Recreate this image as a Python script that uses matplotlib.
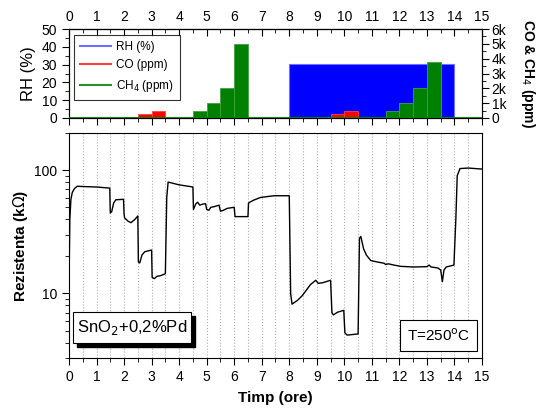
import numpy as np
import matplotlib.pyplot as plt
from matplotlib.lines import Line2D
from matplotlib.patches import Rectangle
from matplotlib import ticker

plt.rcParams['font.family'] = ['Liberation Sans', 'DejaVu Sans']

# --- program of gases (top panel) ---
rh_start = [8.0]
rh_width = [6.0]
rh_pct = [30.5]

co_start = [2.0, 2.5, 3.0, 9.0, 9.5, 10.0]
co_ppm = [100, 300, 500, 100, 300, 500]

ch4_start = [4.5, 5.0, 5.5, 6.0, 11.5, 12.0, 12.5, 13.0]
ch4_ppm = [500, 1000, 2000, 5000, 500, 1000, 2000, 3800]

# --- resistance response (bottom panel) ---
t_h = [0.00, 0.03, 0.07, 0.12, 0.20, 0.30, 0.60, 1.00, 1.48,
       1.50, 1.55, 1.62, 1.70, 1.98,
       2.00, 2.02, 2.15, 2.25, 2.40, 2.50,
       2.52, 2.57, 2.65, 2.75, 3.00,
       3.02, 3.10, 3.20, 3.30, 3.45, 3.50,
       3.55, 3.60, 3.70, 4.00, 4.50,
       4.52, 4.60, 4.67, 4.75, 4.85, 4.96, 5.00, 5.08, 5.15, 5.26, 5.45,
       5.50, 5.58, 5.75, 6.00, 6.03, 6.50,
       6.52, 6.57, 6.70, 6.95, 7.44, 8.00,
       8.05, 8.10, 8.30, 8.47, 8.60, 8.77, 8.96, 9.05, 9.20, 9.50,
       9.55, 9.60, 9.75, 9.98,
       10.02, 10.10, 10.30, 10.50,
       10.55, 10.60, 10.70, 10.80, 10.96, 11.20, 11.44, 11.50, 11.60, 11.80,
       12.05, 12.50, 13.00, 13.08, 13.15, 13.40, 13.50, 13.56, 13.62, 13.70,
       13.98, 14.05, 14.10, 14.20, 14.50, 15.00]
r_kohm = [12, 40, 58, 66, 71, 74, 73.5, 73, 71.5,
          45, 46, 54, 57.5, 58,
          44, 41, 38.5, 37.5, 40, 42.5,
          18, 17.7, 20.5, 21.8, 22.5,
          13.5, 13.2, 13.8, 13.9, 14.3, 14.5,
          60, 80, 79, 76, 73,
          48, 53, 55, 52, 53, 53.5, 48, 47.3, 50, 50.5, 52,
          46.5, 47, 49, 50, 42, 42,
          54, 55, 57, 60, 62, 62,
          10, 8.2, 8.8, 9.6, 10.5, 11.8, 12.8, 12.1, 12.2, 12.8,
          7, 6.7, 7.05, 7.3,
          4.8, 4.6, 4.65, 4.7,
          28, 29, 23, 20.5, 18.5, 18, 17.6, 17.2, 17.4, 17,
          16.6, 16.4, 16.5, 17, 16.4, 16.1, 15.5, 12.5, 15.5, 16.4,
          17, 40, 90, 103, 104, 102]

fig = plt.figure(figsize=(5.45, 4.09), dpi=100)
ax_g = fig.add_axes([0.1266, 0.7115, 0.7578, 0.2175])
ax_r = fig.add_axes([0.1266, 0.1247, 0.7578, 0.5501])

''' TOP PANEL '''
ax_g.bar(rh_start, rh_pct, width=rh_width, align='edge', color='#0000ff',
         edgecolor='#6f6fff', linewidth=0.8, zorder=1)
ax_g.set_xlim(0, 15)
ax_g.set_ylim(0, 50)
ax_g.set_yticks(np.arange(0, 51, 10))
ax_g.yaxis.set_minor_locator(ticker.MultipleLocator(5))
ax_g.set_xticks(np.arange(0, 16, 1))
ax_g.xaxis.set_minor_locator(ticker.MultipleLocator(0.5))
ax_g.tick_params(axis='x', which='both', bottom=True, top=False, labelbottom=False, direction='out')
ax_g.tick_params(axis='both', which='major', length=5, labelsize=10)
ax_g.tick_params(axis='both', which='minor', length=3)
ax_g.set_ylabel('RH (%)', fontsize=12, labelpad=4)

sec = ax_g.secondary_xaxis('top')
sec.set_xticks(np.arange(0, 16, 1))
sec.xaxis.set_minor_locator(ticker.MultipleLocator(0.5))
sec.tick_params(axis='x', which='both', direction='in', labelsize=10)
sec.tick_params(which='major', length=5)
sec.tick_params(which='minor', length=3)

ax_p = ax_g.twinx()
ax_p.bar(co_start, co_ppm, width=0.5, align='edge', color='#ff0000',
         edgecolor='#ff4040', linewidth=0.6, zorder=2)
ax_p.bar(ch4_start, ch4_ppm, width=0.5, align='edge', color='#008000',
         edgecolor='#40a040', linewidth=0.6, zorder=2)
ax_p.axhline(0, color='#008000', linewidth=2, zorder=3)
ax_p.set_ylim(0, 6000)
ax_p.set_yticks(np.arange(0, 6001, 1000))
ax_p.set_yticklabels(['0', '1k', '2k', '3k', '4k', '5k', '6k'])
ax_p.yaxis.set_minor_locator(ticker.MultipleLocator(500))
ax_p.tick_params(axis='y', which='major', length=5, labelsize=10, pad=2)
ax_p.tick_params(axis='y', which='minor', length=3)
ax_p.set_ylabel('CO & CH$_4$ (ppm)', fontsize=10, fontweight='bold',
                rotation=270, labelpad=22)

handles = [Line2D([], [], color='#6f6fff', lw=1.5),
           Line2D([], [], color='#ff4040', lw=1.5),
           Line2D([], [], color='#2e8b2e', lw=1.5)]
leg = ax_p.legend(handles, ['RH (%)', 'CO (ppm)', 'CH$_4$ (ppm)'], loc='upper left',
                  bbox_to_anchor=(0.012, 0.935), fontsize=8.5, frameon=True, fancybox=False,
                  edgecolor='black', handlelength=2.6, handletextpad=0.5,
                  borderpad=0.5, labelspacing=0.55, borderaxespad=0)
leg.get_frame().set_linewidth(0.8)

''' BOTTOM PANEL '''
ax_r.plot(t_h, r_kohm, color='black', linewidth=1.0)
ax_r.set_yscale('log')
ax_r.set_xlim(0, 15)
ax_r.set_ylim(3, 200)
ax_r.set_xticks(np.arange(0, 16, 1))
ax_r.xaxis.set_minor_locator(ticker.MultipleLocator(0.5))
ax_r.set_yticks([10, 100])
ax_r.set_yticklabels(['10', '100'])
ax_r.yaxis.set_minor_locator(ticker.LogLocator(base=10, subs=np.arange(2, 10)))
ax_r.yaxis.set_minor_formatter(ticker.NullFormatter())
ax_r.tick_params(axis='both', which='major', length=5, labelsize=10, direction='out')
ax_r.tick_params(axis='both', which='minor', length=3, direction='out')
ax_r.grid(which='both', axis='x', linestyle=':', color='#b0b0b0', linewidth=0.8)
ax_r.set_axisbelow(True)
ax_r.set_xlabel('Timp (ore)', fontsize=11, fontweight='bold', labelpad=5)
ax_r.set_ylabel('Rezistenta (k$\\Omega$)', fontsize=11, fontweight='bold', labelpad=3)

# sample label with shadowed box
ax_r.add_patch(Rectangle((0.020, 0.050), 0.285, 0.137, transform=ax_r.transAxes,
                         fc='black', ec='black', zorder=4))
ax_r.add_patch(Rectangle((0.010, 0.067), 0.285, 0.137, transform=ax_r.transAxes,
                         fc='white', ec='black', lw=0.8, zorder=5))
ax_r.text(0.152, 0.136, 'SnO$_2$+0,2%Pd', transform=ax_r.transAxes, fontsize=12,
          ha='center', va='center', zorder=6)
ax_r.text(0.895, 0.10, 'T=250$^{\\rm o}$C', transform=ax_r.transAxes, fontsize=11,
          ha='center', va='center',
          bbox=dict(boxstyle='square,pad=0.45', fc='white', ec='black', lw=0.8), zorder=5)

fig.savefig('out.png', dpi=100)
